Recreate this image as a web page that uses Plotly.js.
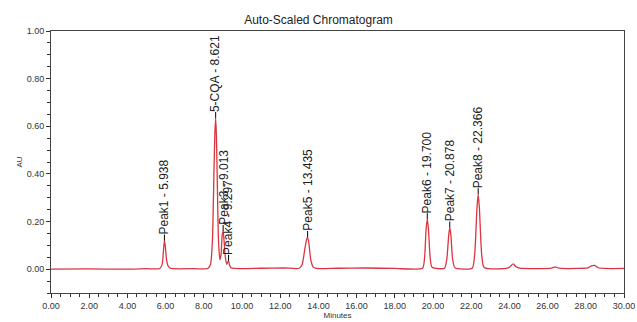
<!DOCTYPE html>
<html>
<head>
<meta charset="utf-8">
<script src="https://cdn.plot.ly/plotly-3.0.1.min.js"></script>
<style>html,body{margin:0;padding:0;background:#fff;}#chart{width:637px;height:322px;}</style>
</head>
<body>
<div id="chart"></div>
<script>
// Chromatogram trace (minutes, AU)
const traceMinutes = [0, 2.0, 4.0, 5.0, 5.7, 5.82, 5.9, 5.938, 5.98, 6.05, 6.12, 6.25, 6.4, 7.5, 8.2, 8.35, 8.45, 8.53, 8.58, 8.621, 8.66, 8.71, 8.77, 8.84, 8.9, 8.96, 9.013, 9.06, 9.13, 9.2, 9.25, 9.297, 9.34, 9.42, 9.6, 11.0, 12.2, 13.0, 13.15, 13.28, 13.38, 13.435, 13.5, 13.6, 13.72, 13.9, 15.0, 16.5, 18.0, 19.45, 19.56, 19.64, 19.7, 19.76, 19.85, 19.95, 20.6, 20.72, 20.82, 20.878, 20.94, 21.03, 21.15, 22.05, 22.18, 22.3, 22.366, 22.43, 22.55, 22.68, 23.9, 24.05, 24.2, 24.35, 24.55, 26.2, 26.4, 26.6, 27.6, 28.1, 28.3, 28.45, 28.65, 29.0, 30.0];
const traceAU = [0, 0.001, 0, 0.002, 0.003, 0.02, 0.09, 0.12, 0.10, 0.04, 0.015, 0.004, 0.002, 0.002, 0.003, 0.02, 0.12, 0.40, 0.57, 0.635, 0.56, 0.35, 0.12, 0.04, 0.06, 0.14, 0.16, 0.12, 0.05, 0.02, 0.03, 0.035, 0.02, 0.006, 0.003, 0.004, 0.005, 0.004, 0.02, 0.08, 0.125, 0.135, 0.11, 0.04, 0.01, 0.003, 0.004, 0.005, 0.003, 0.004, 0.05, 0.17, 0.21, 0.17, 0.05, 0.008, 0.004, 0.04, 0.14, 0.175, 0.14, 0.04, 0.006, 0.004, 0.06, 0.255, 0.315, 0.255, 0.06, 0.007, 0.004, 0.012, 0.022, 0.01, 0.004, 0.004, 0.01, 0.004, 0.003, 0.005, 0.014, 0.016, 0.006, 0.003, 0.003];

// Labelled peaks
const peakNames = ["Peak1", "5-CQA", "Peak3", "Peak4", "Peak5", "Peak6", "Peak7", "Peak8"];
const peakTimes = [5.938, 8.621, 9.013, 9.297, 13.435, 19.700, 20.878, 22.366];
const peakHeights = [0.12, 0.635, 0.16, 0.035, 0.135, 0.21, 0.175, 0.315];

// Axis ticks
const xTickVals = [0, 2, 4, 6, 8, 10, 12, 14, 16, 18, 20, 22, 24, 26, 28, 30];
const yTickVals = [0, 0.2, 0.4, 0.6, 0.8, 1.0];

const font = "Liberation Sans, Arial, sans-serif";
const leaderPx = 6;

const annotations = peakNames.map((n, i) => ({
  x: peakTimes[i], y: peakHeights[i], xref: "x", yref: "y",
  text: n + " - " + peakTimes[i].toFixed(3),
  textangle: -90, showarrow: false,
  xanchor: "center", yanchor: "bottom", yshift: leaderPx - 2,
  font: {family: font, size: 12, color: "#222"}
}));

const shapes = peakNames.map((n, i) => ({
  type: "line", xref: "x", yref: "y", ysizemode: "pixel",
  yanchor: peakHeights[i], x0: peakTimes[i], x1: peakTimes[i], y0: 0, y1: leaderPx,
  line: {color: "#000", width: 1}
}));

const data = [{
  x: traceMinutes, y: traceAU, type: "scatter", mode: "lines",
  line: {color: "#dc3340", width: 1.3, shape: "spline", smoothing: 0.6},
  hoverinfo: "x+y"
}];

const axisCommon = {
  showgrid: false, zeroline: false, showline: true, mirror: true,
  linecolor: "#444", linewidth: 1, ticks: "outside", ticklen: 4, tickcolor: "#333",
  tickfont: {family: font, size: 9, color: "#333"}, tickformat: ".2f"
};

const layout = {
  width: 637, height: 322,
  margin: {l: 51, r: 13, t: 31, b: 29},
  paper_bgcolor: "#fff", plot_bgcolor: "#fff",
  showlegend: false,
  title: {text: "Auto-Scaled Chromatogram", x: 0.5, xanchor: "center", y: 0.94, yanchor: "middle",
          font: {family: font, size: 12, color: "#222"}},
  xaxis: Object.assign({}, axisCommon, {
    range: [0, 30], tickvals: xTickVals,
    minor: {dtick: 0.5, tick0: 0, ticks: "outside", ticklen: 3, tickcolor: "#333"},
    title: {text: "Minutes", standoff: 2, font: {family: font, size: 8, color: "#333"}}
  }),
  yaxis: Object.assign({}, axisCommon, {
    range: [-0.1, 1.0], tickvals: yTickVals,
    minor: {dtick: 0.05, tick0: 0, ticks: "outside", ticklen: 3, tickcolor: "#333"},
    title: {text: "AU", standoff: 2, font: {family: font, size: 8, color: "#333"}}
  }),
  shapes: shapes,
  annotations: annotations
};

Plotly.newPlot("chart", data, layout, {displayModeBar: false, staticPlot: true});
</script>
</body>
</html>
